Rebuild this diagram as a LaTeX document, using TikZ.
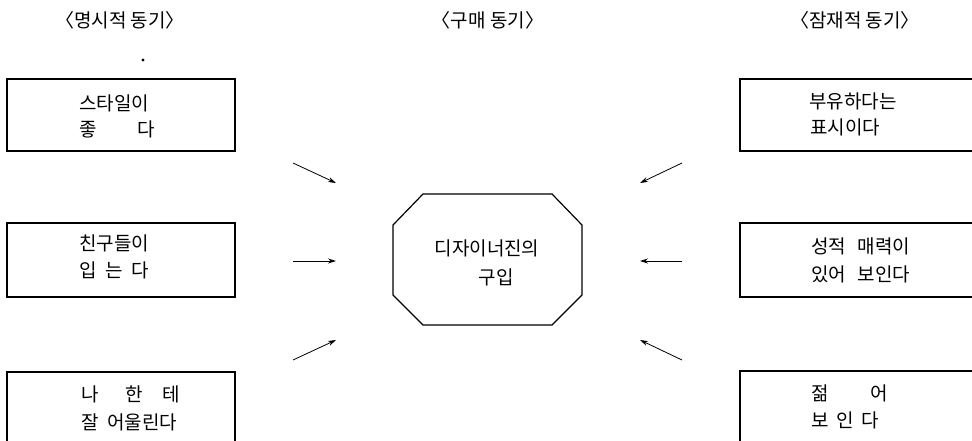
\documentclass[tikz,border=0pt]{standalone}
\usepackage{fontspec}
\newfontfamily\kr{Noto Sans CJK KR}
\usetikzlibrary{arrows.meta}
\begin{document}
\begin{tikzpicture}[x=1pt,y=-1pt,
  lbl/.style={font=\kr\fontsize{19}{23}\selectfont, inner sep=0pt, anchor=west},
  hdr/.style={font=\kr\fontsize{19}{23}\selectfont, inner sep=0pt},
  motbox/.style={draw, line width=1.3pt, rectangle, inner sep=0pt},
  oct/.style={draw, line width=1.2pt, line join=miter},
  arr/.style={line width=0.8pt, -{Stealth[length=8pt,width=5pt]}}]
\useasboundingbox (0,0) rectangle (972,441);
\clip (0,0) rectangle (972,441);

% headers
\node[hdr] (h1) at (120,20) {〈명시적 동기〉};
\node[hdr] (h2) at (488,20) {〈구매 동기〉};
\node[hdr] (h3) at (855,20) {〈잠재적 동기〉};
\fill (143,60) circle (1.6pt);

% left boxes
\node[motbox, minimum width=228pt, minimum height=72pt] (tl) at (121,115) {};
\node[motbox, minimum width=228pt, minimum height=74pt] (ml) at (121,260) {};
\node[motbox, minimum width=228pt, minimum height=140pt] (bl) at (121,442) {};
% right boxes
\node[motbox, minimum width=300pt, minimum height=72pt] (tr) at (890,115) {};
\node[motbox, minimum width=300pt, minimum height=74pt] (mr) at (890,260) {};
\node[motbox, minimum width=300pt, minimum height=140pt] (br) at (890,441) {};

% left texts
\node[lbl] (tl1) at (79,103) {스타일이};
\node[lbl] (tl2) at (79,129) {좋\hspace{2.15em}다};
\node[lbl] (ml1) at (79,243) {친구들이};
\node[lbl] (ml2) at (79,270) {입\hspace{0.45em}는\hspace{0.45em}다};
\node[lbl] (bl1) at (81,394) {나\hspace{1.4em}한\hspace{1.05em}테};
\node[lbl] (bl2) at (81,422) {잘\hspace{0.45em}어울린다};

% right texts
\node[lbl] (tr1) at (809,101) {부유하다는};
\node[lbl] (tr2) at (810,127) {표시이다};
\node[lbl] (mr1) at (811,246) {성적\hspace{0.6em}매력이};
\node[lbl] (mr2) at (811,274) {있어\hspace{0.6em}보인다};
\node[lbl] (br1) at (811,393) {젊\hspace{2.2em}어};
\node[lbl] (br2) at (811,420) {보\hspace{0.4em}인\hspace{0.4em}다};

% central octagon
\draw[oct] (423,194) -- (552,194) -- (582,225) -- (582,295) -- (552,325)
  -- (423,325) -- (393,295) -- (393,225) -- cycle;
\node[lbl, anchor=center] (c1) at (487,248) {디자이너진의};
\node[lbl, anchor=center] (c2) at (496,277) {구입};

% arrows
\coordinate (l1s) at (293,163); \coordinate (l1e) at (336,183);
\coordinate (l2s) at (293,261); \coordinate (l2e) at (336,261);
\coordinate (l3s) at (293,360); \coordinate (l3e) at (336,340);
\coordinate (r1s) at (682,163); \coordinate (r1e) at (640,183);
\coordinate (r2s) at (682,261); \coordinate (r2e) at (640,261);
\coordinate (r3s) at (682,360); \coordinate (r3e) at (640,340);
\draw[arr] (l1s) -- (l1e);
\draw[arr] (l2s) -- (l2e);
\draw[arr] (l3s) -- (l3e);
\draw[arr] (r1s) -- (r1e);
\draw[arr] (r2s) -- (r2e);
\draw[arr] (r3s) -- (r3e);
\end{tikzpicture}
\end{document}
